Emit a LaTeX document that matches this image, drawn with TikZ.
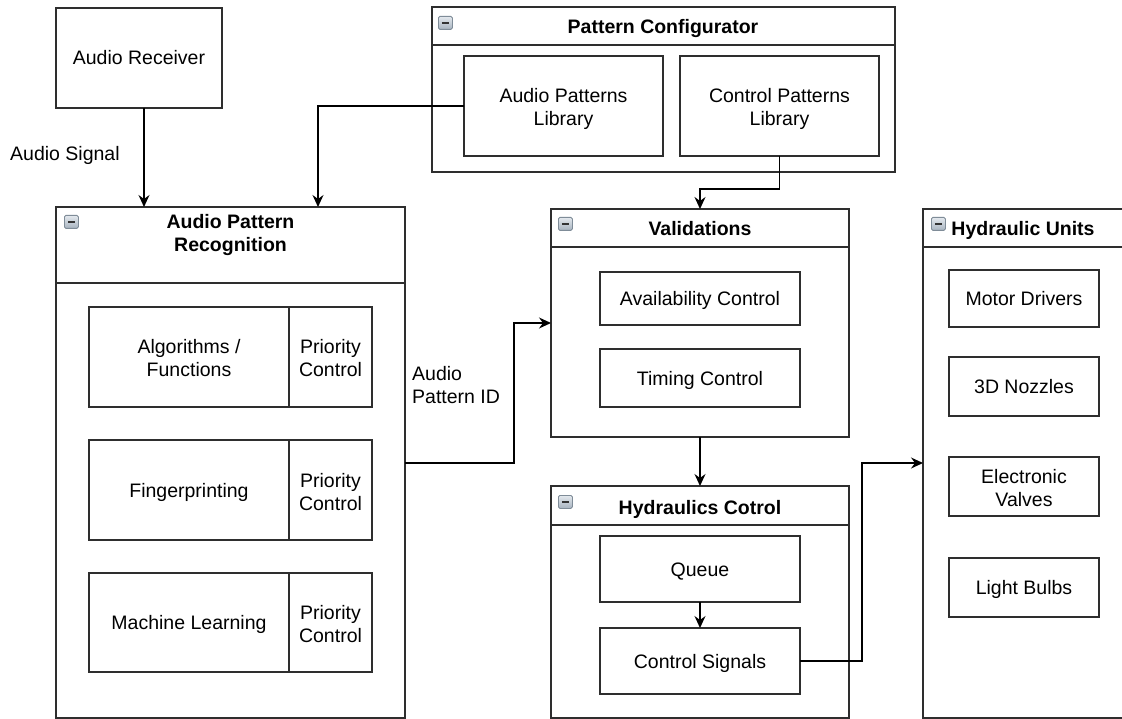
\documentclass[tikz,border=0pt]{standalone}
\usepackage{fontspec}
\setmainfont{Liberation Sans}
\usetikzlibrary{arrows.meta,calc}

\definecolor{edgegray}{HTML}{2E2E2E}
\definecolor{icontop}{HTML}{E4E9EE}
\definecolor{iconbot}{HTML}{A7B3BF}
\definecolor{iconrim}{HTML}{7F8C98}

\tikzset{
  base/.style={font=\fontsize{19.5}{23}\selectfont, text=black, text height=14pt, text depth=0pt},
  twoline/.style={text height=40pt, text depth=0pt},
  block/.style={base, draw=edgegray, line width=1.5pt, fill=white, inner sep=0pt, outer sep=0pt,
                anchor=north west, align=center},
  container/.style={draw=edgegray, line width=1.5pt, fill=white, inner sep=0pt, outer sep=0pt,
                anchor=north west},
  headband/.style={draw=edgegray, line width=1.5pt, inner sep=0pt, outer sep=0pt, anchor=north west},
  title/.style={base, font=\fontsize{19.5}{23}\selectfont\bfseries, align=center, inner sep=0pt},
  lbl/.style={base, align=left, inner sep=0pt, anchor=west},
  minusicon/.style={draw=iconrim, line width=0.8pt, top color=icontop, bottom color=iconbot,
                rounded corners=1.5pt, minimum width=14pt, minimum height=13pt, inner sep=0pt,
                anchor=north west,
                path picture={\draw[line width=2pt, draw=black!80]
                  ($(path picture bounding box.west)+(3.5pt,0)$) --
                  ($(path picture bounding box.east)-(3.5pt,0)$);}},
  conn/.style={draw=black, line width=1.4pt,
               -{Stealth[length=12pt, width=11pt, inset=4pt]}}
}

\begin{document}
\begin{tikzpicture}[x=1pt, y=-1pt]
\useasboundingbox (0,0) rectangle (1122,719);
\clip (0,0) rectangle (1122,719);
\fill[white] (0,0) rectangle (1122,719);

% ---- source ----
\node[block, minimum width=166pt, minimum height=100pt] (ar) at (56,8) {Audio Receiver};

% ---- pattern configurator ----
\node[container, minimum width=463pt, minimum height=165pt] (pc) at (432,7) {};
\node[headband, minimum width=463pt, minimum height=38pt] (pchead) at (432,7) {};
\node[title] (pctitle) at (663,26.5) {Pattern Configurator};
\node[minusicon] (pcicon) at (438,16) {};
\node[block, twoline, minimum width=199pt, minimum height=100pt] (apl) at (464,56) {Audio Patterns\\Library};
\node[block, twoline, minimum width=199pt, minimum height=100pt] (cpl) at (680,56) {Control Patterns\\Library};

% ---- audio pattern recognition ----
\node[container, minimum width=349pt, minimum height=511pt] (apr) at (56,207) {};
\node[headband, minimum width=349pt, minimum height=76pt] (aprhead) at (56,207) {};
\node[title, twoline] (aprtitle) at (230.5,232) {Audio Pattern\\Recognition};
\node[minusicon] (apricon) at (64,215) {};

\node[block, twoline, minimum width=200pt, minimum height=100pt] (alg) at (89,307) {Algorithms /\\Functions};
\node[block, twoline, minimum width=83pt, minimum height=100pt] (pr1) at (289,307) {Priority\\Control};
\node[block, minimum width=200pt, minimum height=100pt] (fp) at (89,440) {Fingerprinting};
\node[block, twoline, minimum width=83pt, minimum height=100pt] (pr2) at (289,440) {Priority\\Control};
\node[block, minimum width=200pt, minimum height=99pt] (ml) at (89,573) {Machine Learning};
\node[block, twoline, minimum width=83pt, minimum height=99pt] (pr3) at (289,573) {Priority\\Control};

% ---- validations ----
\node[container, minimum width=298pt, minimum height=228pt] (val) at (551,209) {};
\node[headband, minimum width=298pt, minimum height=38pt] (valhead) at (551,209) {};
\node[title] (valtitle) at (700,228.5) {Validations};
\node[minusicon] (valicon) at (558,217) {};
\node[block, minimum width=200pt, minimum height=53pt] (avail) at (600,272) {Availability Control};
\node[block, minimum width=200pt, minimum height=58pt] (timing) at (600,349) {Timing Control};

% ---- hydraulics control ----
\node[container, minimum width=298pt, minimum height=232pt] (hc) at (551,486) {};
\node[headband, minimum width=298pt, minimum height=39pt] (hchead) at (551,486) {};
\node[title] (hctitle) at (700,507) {Hydraulics Cotrol};
\node[minusicon] (hcicon) at (558,495) {};
\node[block, minimum width=200pt, minimum height=66pt] (queue) at (600,536) {Queue};
\node[block, minimum width=200pt, minimum height=66pt] (cs) at (600,628) {Control Signals};

% ---- hydraulic units ----
\node[container, minimum width=202pt, minimum height=509pt] (hu) at (923,209) {};
\node[headband, minimum width=202pt, minimum height=38pt] (huhead) at (923,209) {};
\node[title] (hutitle) at (1023,228.5) {Hydraulic Units};
\node[minusicon] (huicon) at (931,217) {};
\node[block, minimum width=150pt, minimum height=57pt] (md) at (949,270) {Motor Drivers};
\node[block, minimum width=150pt, minimum height=59pt] (nz) at (949,357) {3D Nozzles};
\node[block, twoline, minimum width=150pt, minimum height=59pt] (ev) at (949,457) {Electronic\\Valves};
\node[block, minimum width=150pt, minimum height=59pt] (lb) at (949,558) {Light Bulbs};

% ---- labels ----
\node[lbl] (sig) at (10,154) {Audio Signal};
\node[lbl, twoline] (pid) at (412,383) {Audio\\Pattern ID};

% ---- connectors ----
\draw[conn] (ar.south -| 144,0) -- (apr.north -| 144,0);
\draw[conn] (apl.west) -| (apr.north -| 318,0);
\draw[conn] (cpl.south) -- (cpl.south |- 0,189) -| (val.north);
\draw[conn] (apr.east |- 0,463) -| (514,323) -- (val.west |- 0,323);
\draw[conn] (val.south) -- (hc.north);
\draw[conn] (queue.south) -- (cs.north);
\draw[conn] (cs.east) -| (862,463) -- (hu.west |- 0,463);
\end{tikzpicture}
\end{document}
